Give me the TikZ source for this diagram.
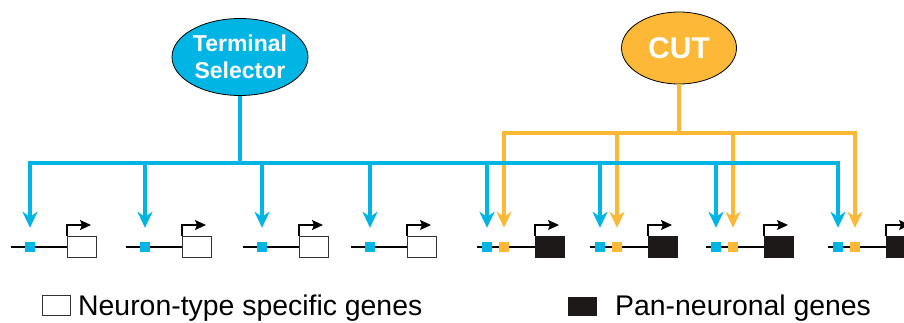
\documentclass[tikz,border=0pt]{standalone}
\usepackage{fontspec}
\setmainfont{Liberation Sans}
\usetikzlibrary{shapes.geometric,arrows.meta,calc}
\definecolor{tsblue}{RGB}{0,180,228}
\definecolor{cutorange}{RGB}{253,184,55}
\definecolor{genebk}{RGB}{30,25,25}
\tikzset{
  regell/.style={ellipse,draw=black,line width=0.8pt,inner sep=0pt,text=white,font=\bfseries,align=center},
  bline/.style={draw=tsblue,line width=3.6pt},
  oline/.style={draw=cutorange,line width=3.6pt},
  barrow/.style={bline,-{Stealth[length=16pt,width=15pt,inset=5pt]}},
  oarrow/.style={oline,-{Stealth[length=16pt,width=15pt,inset=5pt]}},
  bsq/.style={rectangle,fill=tsblue,minimum width=10pt,minimum height=10pt,inner sep=0pt},
  osq/.style={rectangle,fill=cutorange,minimum width=10pt,minimum height=10pt,inner sep=0pt},
  wbox/.style={rectangle,draw=black!80,fill=white,line width=1.2pt,minimum width=29pt,minimum height=21pt,inner sep=0pt,anchor=north west},
  kbox/.style={rectangle,draw=genebk,fill=genebk,line width=1.2pt,minimum width=29pt,minimum height=21pt,inner sep=0pt,anchor=north west},
  gline/.style={draw=black,line width=1.2pt},
  prom/.style={draw=black,line width=1.3pt,-{Stealth[length=11pt,width=10pt,inset=2pt]}},
  legtext/.style={anchor=base west,inner sep=0pt,font=\fontsize{28.4}{31}\selectfont}
}
\begin{document}
\begin{tikzpicture}[x=1pt,y=-1pt]
\useasboundingbox (0,0) rectangle (904,322);
% regulators
\node[regell,fill=tsblue,minimum width=136pt,minimum height=77pt,font=\fontsize{23}{27}\selectfont\bfseries] (ts) at (240,57) {Terminal\\Selector};
\node[regell,fill=cutorange,minimum width=115pt,minimum height=72pt,font=\fontsize{30}{32}\selectfont\bfseries] (cut) at (679,48) {CUT};
% bus coordinates
\coordinate (busB) at (240,163);
\coordinate (busO) at (679,133);
% genes
\foreach \i/\b in {1/30,2/145,3/262,4/370}{
  \node[bsq] (bs\i) at (\b,247) {};
  \node[wbox] (g\i) at (\b+37,236) {};
  \coordinate (ls\i) at (\b-19,247);
  \draw[gline] (ls\i) -- (g\i.west |- ls\i);
  \node[bsq] at (bs\i) {};
  \draw[prom] (g\i.north west) -- ++(0,-11) -- ++(24,0);
}
\foreach \i/\b in {5/487,6/600,7/716,8/838}{
  \node[bsq] (bs\i) at (\b,247) {};
  \node[osq] (os\i) at (\b+17,247) {};
  \node[kbox] (g\i) at (\b+48,236) {};
  \coordinate (ls\i) at (\b-10,247);
  \draw[gline] (ls\i) -- (g\i.west |- ls\i);
  \node[bsq] at (bs\i) {};
  \node[osq] at (os\i) {};
  \draw[prom] (g\i.north west) -- ++(0,-11) -- ++(24,0);
}
% orange (CUT) connectors
\draw[oline] (cut.south) -- (busO);
\draw[oline,line cap=rect] (os5 |- busO) -- (os8 |- busO);
\foreach \i in {5,6,7,8}{
  \draw[oarrow] (os\i |- busO) -- ([yshift=14pt]os\i.north);
}
% blue (terminal selector) connectors
\draw[bline] (ts.south) -- (busB);
\draw[bline] ([xshift=-1.8pt]bs1 |- busB) -- ([xshift=1.8pt]bs8 |- busB);
\foreach \i in {1,...,8}{
  \draw[barrow] (bs\i |- busB) -- ([yshift=14pt]bs\i.north);
}
% legend
\node[rectangle,draw=black!80,line width=1pt,minimum width=28pt,minimum height=20pt,inner sep=0pt] (lw) at (56,305.5) {};
\node[legtext] (lwt) at (78,315.5) {Neuron-type specific genes};
\node[rectangle,fill=genebk,minimum width=29pt,minimum height=19pt,inner sep=0pt] (lk) at (582.5,306) {};
\node[legtext] (lkt) at (615,315.5) {Pan-neuronal genes};
\end{tikzpicture}
\end{document}
